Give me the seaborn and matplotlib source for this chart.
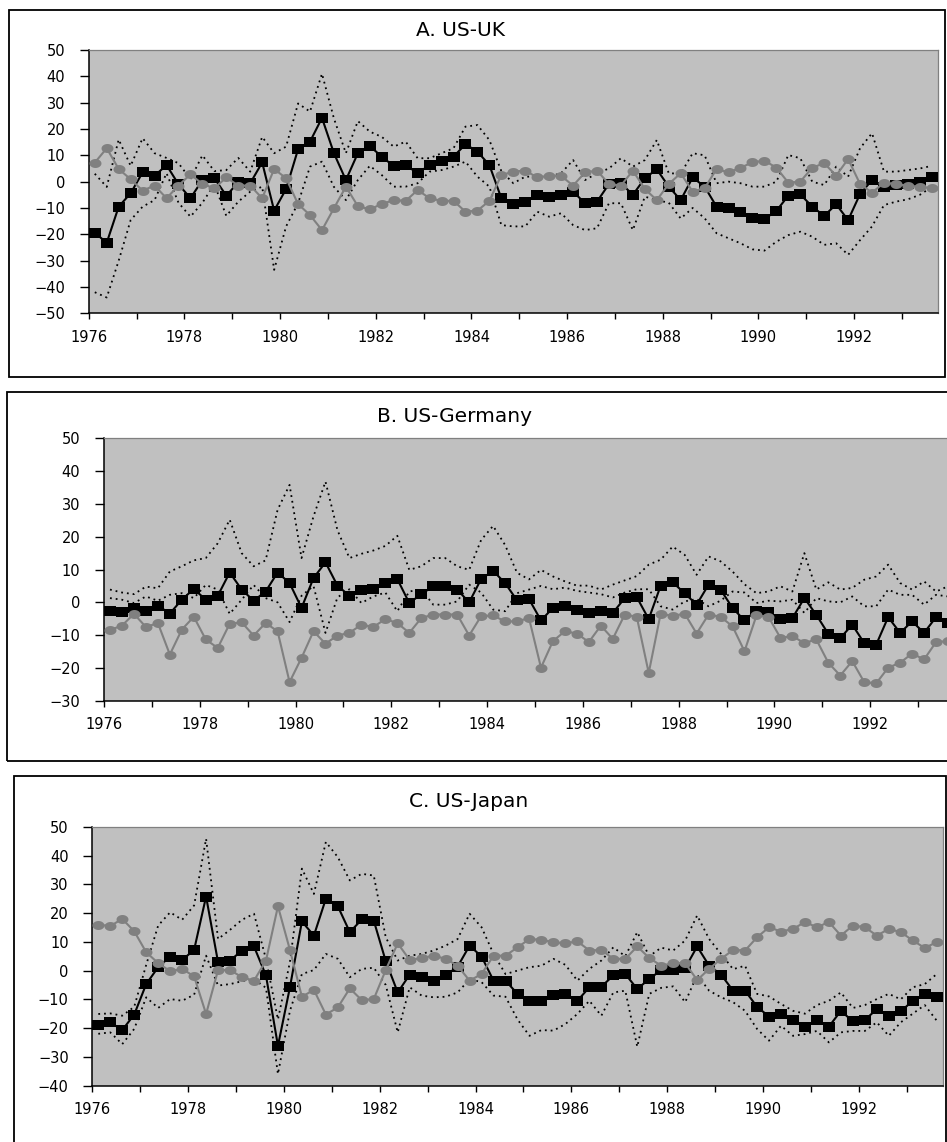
import numpy as np
import matplotlib
matplotlib.use("Agg")
import matplotlib.pyplot as plt
import seaborn as sns
from matplotlib.path import Path
from matplotlib.patches import Rectangle

# ---------------- data (quarterly, 1976Q1 .. 1993Q3) ----------------
years = list(range(1976, 1994))
year_labels = [str(y) if y % 2 == 0 else "" for y in years]

titles = ["A. US-UK", "B. US-Germany", "C. US-Japan"]

a_black = [-19.4, -23.2, -9.5, -4.4, 3.5, 2.2, 6.3, -1.0, -6.3, 0.6,
           1.3, -5.3, -0.3, -0.6, 7.3, -11.0, -2.8, 12.3, 15.2, 24.2,
           10.8, 0.6, 10.8, 13.5, 9.5, 5.9, 6.3, 3.2, 6.3, 8.0,
           9.5, 14.2, 11.4, 6.3, -6.3, -8.5, -7.6, -5.0, -6.0, -5.0,
           -3.8, -8.2, -7.6, -0.9, -0.6, -5.0, 1.3, 4.7, -1.9, -7.0,
           1.6, -1.9, -9.5, -10.1, -11.6, -13.7, -14.2, -11.1, -5.3, -4.8,
           -9.5, -13.0, -8.6, -14.6, -4.7, 0.6, -1.9, -1.3, -0.9, 0.0,
           1.9]
a_gray = [7.2, 12.7, 4.8, 0.9, -3.4, -1.5, -6.3, -1.5, 2.8, -0.9,
          -2.5, 1.6, -1.5, -1.5, -6.3, 4.8, 1.3, -8.5, -12.7, -18.4,
          -10.1, -1.9, -9.3, -10.5, -8.5, -7.0, -7.3, -3.2, -6.3, -7.3,
          -7.3, -11.4, -11.0, -7.3, 2.5, 3.8, 4.2, 1.6, 2.2, 2.2,
          -1.5, 3.5, 4.2, -0.9, -1.5, 4.2, -2.8, -7.0, -0.9, 3.2,
          -3.8, -2.5, 4.8, 3.5, 5.3, 7.3, 8.0, 5.3, -0.4, 0.0,
          5.3, 7.0, 2.3, 8.6, -0.9, -4.2, -0.4, -0.9, -1.6, -1.9,
          -2.5]
a_upper = [3.0, -2.0, 16.0, 6.0, 16.5, 10.8, 9.0, 7.0, 1.0, 10.0,
           4.0, 4.4, 9.0, 3.8, 17.0, 10.8, 13.3, 29.7, 26.6, 41.0,
           24.0, 10.8, 23.0, 19.0, 17.0, 13.3, 15.2, 8.9, 8.9, 10.8,
           12.7, 20.9, 21.5, 15.8, 4.0, -0.6, 1.9, 1.9, 1.9, 3.2,
           8.2, 0.6, 3.2, 5.0, 8.9, 5.7, 8.2, 15.8, 3.2, 3.0,
           10.8, 10.0, -0.6, 0.0, -0.6, -1.9, -1.9, 0.0, 10.1, 8.9,
           0.0, -1.3, 5.7, 1.9, 12.7, 18.4, 3.8, 3.8, 4.4, 5.0,
           6.0]
a_lower = [-42.0, -44.0, -30.0, -14.6, -9.5, -7.0, 3.2, -8.0, -13.3, -8.0,
           -1.0, -13.0, -7.6, -3.8, -1.9, -33.5, -17.0, -8.2, 5.7, 7.6,
           -2.0, -7.0, 0.6, 6.0, 2.5, -1.9, -1.9, -0.6, 3.8, 4.4,
           5.7, 7.6, 1.9, -1.9, -16.5, -17.0, -17.0, -11.4, -13.3, -12.0,
           -16.5, -18.4, -17.7, -8.2, -8.2, -18.4, -5.7, -7.0, -8.0, -14.0,
           -10.0, -13.9, -19.6, -21.5, -23.4, -25.7, -26.2, -22.8, -20.3, -19.0,
           -20.9, -24.0, -23.4, -27.8, -22.2, -17.0, -8.9, -7.6, -6.7, -5.0,
           -2.0]

b_black = [-2.5, -2.9, -1.7, -2.7, -1.0, -3.4, 0.8, 4.1, 0.8, 2.0,
           9.1, 3.9, 0.5, 3.3, 9.1, 5.9, -1.7, 7.4, 12.2, 5.1,
           2.0, 3.9, 4.2, 5.9, 7.1, -0.2, 2.5, 4.9, 4.9, 3.9,
           0.0, 7.1, 9.6, 5.9, 0.6, 1.0, -5.5, -1.7, -1.0, -2.2,
           -3.2, -2.5, -3.2, 1.3, 1.6, -5.1, 5.1, 6.1, 2.8, -0.7,
           5.4, 3.9, -1.7, -5.5, -2.5, -2.9, -5.1, -4.8, 1.3, -3.8,
           -9.6, -10.9, -6.8, -12.4, -12.9, -4.5, -9.3, -5.8, -9.3, -4.5,
           -6.3]
b_gray = [-8.4, -7.1, -3.5, -7.5, -6.3, -15.9, -8.3, -4.4, -11.3, -13.9,
          -6.5, -6.1, -10.1, -6.3, -8.8, -24.3, -16.9, -8.8, -12.6, -10.1,
          -9.3, -6.8, -7.5, -5.1, -6.3, -9.3, -4.8, -3.7, -3.7, -3.7,
          -10.1, -4.2, -4.0, -5.8, -5.8, -4.8, -19.9, -11.8, -8.8, -9.5,
          -12.1, -7.1, -11.1, -3.7, -4.4, -21.5, -3.4, -4.2, -3.4, -9.5,
          -3.7, -4.4, -7.3, -14.9, -4.0, -4.4, -10.8, -10.3, -12.4, -11.3,
          -18.4, -22.3, -17.9, -24.3, -24.7, -19.9, -18.4, -15.6, -17.4, -12.1,
          -11.8]
b_upper = [3.9, 3.0, 2.5, 4.8, 4.3, 9.4, 11.0, 12.8, 13.5, 18.0,
           25.2, 15.0, 11.0, 12.8, 28.2, 35.8, 13.5, 26.2, 36.8, 22.0,
           13.5, 14.8, 15.8, 17.2, 20.3, 9.9, 11.0, 13.5, 13.5, 11.0,
           9.9, 19.0, 23.3, 17.5, 9.0, 7.0, 9.9, 7.9, 6.4, 5.1,
           5.1, 3.9, 5.4, 6.7, 8.0, 11.5, 13.0, 17.0, 14.5, 8.4,
           14.0, 12.5, 9.4, 5.5, 2.8, 3.3, 4.9, 3.3, 15.0, 3.9,
           6.1, 3.9, 4.4, 6.9, 7.9, 11.5, 5.9, 3.9, 6.4, 3.3,
           4.9]
b_lower = [1.3, 0.8, -0.2, 1.8, 0.5, 2.3, 2.8, 1.3, 5.3, 3.9,
           -3.5, 0.8, 5.3, 1.3, 0.0, -6.0, 2.0, 5.0, -9.3, 1.5,
           4.0, -0.2, 1.8, 3.0, -2.7, 3.3, 4.0, -0.7, -0.7, 0.3,
           5.4, 3.0, -2.2, -2.7, 2.8, 3.9, 5.0, 4.0, 4.5, 3.5,
           3.0, 2.5, 1.5, 3.0, 4.0, 4.0, -1.2, -2.2, 0.3, 1.0,
           -1.2, 0.5, 3.3, 3.0, -0.2, 0.5, 0.3, 0.8, -3.2, 1.3,
           0.3, 0.0, 1.8, -1.2, -1.2, 3.9, 2.3, 2.3, -0.7, 2.3,
           1.8]

c_black = [-18.8, -18.0, -20.7, -15.3, -4.7, 1.2, 4.9, 3.7, 7.2, 25.8,
           2.9, 3.5, 7.0, 8.4, -1.7, -26.2, -5.8, 17.1, 12.2, 25.0,
           22.4, 13.4, 17.8, 17.4, 3.3, -7.6, -1.4, -2.3, -3.5, -1.7,
           1.4, 8.7, 4.9, -3.5, -3.5, -8.1, -10.5, -10.5, -8.4, -8.1,
           -10.5, -5.8, -5.6, -1.7, -1.2, -6.4, -2.9, 0.2, 0.2, 0.9,
           8.4, 1.7, -1.4, -7.0, -7.0, -12.6, -16.0, -15.1, -17.2, -19.8,
           -17.2, -19.5, -14.0, -17.7, -17.2, -13.4, -15.7, -14.2, -10.5, -8.1,
           -9.1]
c_gray = [16.0, 15.5, 18.0, 13.7, 6.4, 2.6, -0.2, 0.6, -2.0, -15.1,
          0.2, 0.2, -2.3, -3.5, 3.5, 22.4, 7.2, -9.1, -6.7, -15.3,
          -12.8, -6.2, -10.3, -9.9, 0.2, 9.5, 3.7, 4.4, 5.2, 4.1,
          1.7, -3.5, -1.2, 5.2, 5.2, 8.1, 11.0, 10.7, 9.9, 9.5,
          10.2, 7.0, 7.2, 4.1, 4.1, 8.4, 4.4, 1.7, 2.6, 2.6,
          -3.3, 0.6, 4.1, 7.2, 7.0, 11.6, 15.1, 13.6, 14.5, 16.9,
          15.1, 16.9, 12.2, 15.7, 15.1, 12.2, 14.5, 13.4, 10.5, 7.9,
          9.9]
c_upper = [-15.1, -14.9, -15.7, -12.6, 2.0, 15.7, 20.3, 17.7, 22.7, 45.9,
           11.0, 14.2, 17.7, 19.8, 4.0, -17.0, 3.0, 35.5, 26.7, 44.8,
           39.5, 31.4, 33.7, 33.1, 11.6, 3.5, 5.2, 5.8, 7.0, 8.7,
           11.0, 19.8, 15.1, 5.8, -1.2, 0.0, 1.2, 1.7, 4.1, 2.0,
           -3.5, 0.6, 3.5, 8.1, 5.0, 13.4, 5.0, 8.0, 7.0, 10.5,
           19.2, 11.0, 5.8, 0.5, 1.7, -8.1, -9.0, -11.6, -14.0, -15.0,
           -12.0, -10.5, -7.6, -13.0, -12.0, -9.9, -8.1, -10.0, -5.8, -4.7,
           -1.2]
c_lower = [-22.0, -21.5, -25.6, -20.3, -9.3, -13.0, -9.9, -10.5, -8.4, 5.2,
           -5.2, -4.7, -3.7, -3.0, -6.0, -36.0, -14.0, -1.2, 0.2, 5.8,
           4.1, -2.3, 0.6, 1.0, -5.0, -21.5, -5.8, -8.7, -9.3, -9.1,
           -7.6, -3.0, -4.0, -8.7, -9.1, -17.0, -22.7, -20.7, -20.9, -18.6,
           -15.1, -10.5, -15.7, -7.6, -7.0, -26.5, -8.1, -6.0, -5.5, -11.0,
           -1.5, -7.0, -9.3, -11.0, -14.0, -20.3, -24.4, -19.2, -22.7, -22.1,
           -21.0, -25.0, -21.5, -21.0, -21.0, -18.0, -22.7, -18.0, -15.0, -12.0,
           -17.4]

y_ranges = [(-50, 50), (-30, 50), (-40, 50)]

# ---------------- style ----------------
sns.set_style("ticks")
plt.rcParams["font.family"] = ["DejaVu Sans"]

W, H = 947, 1142
fig = plt.figure(figsize=(W / 100, H / 100), dpi=100)

def px_axes(left, top, right, bottom):
    return fig.add_axes([left / W, 1 - bottom / H, (right - left) / W, (bottom - top) / H])

def px_box(x0, y0, x1, y1):
    fig.add_artist(Rectangle((x0 / W, 1 - y1 / H), (x1 - x0) / W, (y1 - y0) / H,
                             transform=fig.transFigure, fill=False,
                             edgecolor="black", linewidth=1.3, clip_on=False))

sq_marker = Path([(-1.19, -1), (1.19, -1), (1.19, 1), (-1.19, 1), (-1.19, -1)],
                 [Path.MOVETO, Path.LINETO, Path.LINETO, Path.LINETO, Path.CLOSEPOLY])
tt = np.linspace(0, 2 * np.pi, 41)
ell_marker = Path(np.column_stack([1.33 * np.cos(tt), np.sin(tt)]), closed=True)

GRAY = "#808080"

def draw_panel(ax, black, gray, upper, lower, ylim):
    n = len(black)
    x = np.arange(n)
    ax.set_facecolor("#c0c0c0")
    for band in (upper, lower):
        sns.lineplot(x=x, y=band, ax=ax, color="black", linewidth=1.3,
                     linestyle=(0, (1.0, 2.2)), zorder=2)
    sns.lineplot(x=x, y=black, ax=ax, color="black", linewidth=1.5,
                 marker=sq_marker, markersize=9.0, markerfacecolor="black",
                 markeredgecolor="black", markeredgewidth=0, zorder=3)
    sns.lineplot(x=x, y=gray, ax=ax, color=GRAY, linewidth=1.5,
                 marker=ell_marker, markersize=8.6, markerfacecolor=GRAY,
                 markeredgecolor=GRAY, markeredgewidth=0, zorder=4)
    ax.set_xlim(-0.5, n - 0.5)
    ax.set_ylim(*ylim)
    ax.set_yticks(np.arange(ylim[0], ylim[1] + 1, 10))
    ax.set_xticks([-0.5 + 4 * k for k in range(len(years))], year_labels)
    ax.set(xlabel="", ylabel="")
    for s in ("left", "bottom"):
        ax.spines[s].set_color("black")
        ax.spines[s].set_linewidth(1.1)
    for s in ("top", "right"):
        ax.spines[s].set_visible(True)
        ax.spines[s].set_color(GRAY)
        ax.spines[s].set_linewidth(0.9)
    ax.tick_params(axis="y", direction="out", length=6.5, width=1.0, pad=10.5,
                   labelsize=10.5, colors="black")
    ax.tick_params(axis="x", direction="out", length=4.3, width=1.0, pad=7.6,
                   labelsize=10.5, colors="black")
    ax.grid(False)

# panel A
axA = px_axes(88.8, 50, 937.8, 313.3)
draw_panel(axA, a_black, a_gray, a_upper, a_lower, y_ranges[0])
# panel B (extends past right edge like the reference)
axB = px_axes(104, 438.3, 954, 700.8)
draw_panel(axB, b_black, b_gray, b_upper, b_lower, y_ranges[1])
# panel C
axC = px_axes(92.3, 827, 942.7, 1085.5)
draw_panel(axC, c_black, c_gray, c_upper, c_lower, y_ranges[2])

# chart boxes
px_box(9, 10, 945, 377)
px_box(7, 392, 970, 761)
px_box(14, 776, 945.5, 1160)

# titles
for (tx, ty), t in zip([(460, 30), (454, 416.7), (469, 801.7)], titles):
    fig.text(tx / W, 1 - ty / H, t, ha="center", va="center", fontsize=14.5, color="black")

fig.savefig("out.png", dpi=100)
